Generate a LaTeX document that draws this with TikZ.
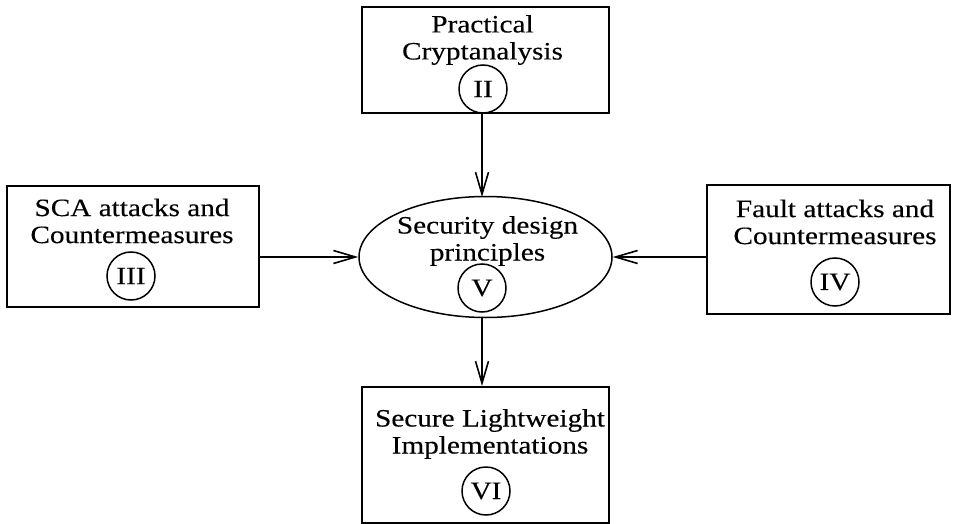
\documentclass[tikz,border=0pt]{standalone}
\usepackage{fontspec}
\setmainfont{Liberation Serif}[FakeStretch=1.17,FakeBold=0.2]
\usetikzlibrary{arrows.meta,shapes.geometric}
\begin{document}
\begin{tikzpicture}[x=1pt,y=-1pt,
  box/.style={draw,line width=2pt,inner sep=0pt},
  lbl/.style={align=center,font=\fontsize{25}{27}\selectfont,inner sep=0pt},
  num/.style={draw,circle,line width=1.5pt,minimum size=48pt,inner sep=0pt,font=\fontsize{25}{25}\selectfont},
  conn/.style={line width=1.6pt,-{Straight Barb[length=22pt,width=13pt,line width=1.6pt]}}]
\useasboundingbox (0,0) rectangle (958,524);
% boxes
\node[box,minimum width=247pt,minimum height=106pt] (pc) at (485.5,60) {};
\node[box,minimum width=252pt,minimum height=121pt] (sca) at (133,246.5) {};
\node[box,minimum width=243pt,minimum height=129pt] (fa) at (828.5,249.5) {};
\node[box,minimum width=247pt,minimum height=136pt] (sli) at (485.5,455) {};
\node[draw,ellipse,line width=1.5pt,minimum width=253pt,minimum height=121pt,inner sep=0pt] (sdp) at (485.5,257) {};
% labels
\node[lbl] (pct) at (482.5,40) {Practical\\Cryptanalysis};
\node[lbl] (scat) at (132,221) {SCA attacks and\\Countermeasures};
\node[lbl] (sdpt) at (487.5,241) {Security design\\principles};
\node[lbl] (fat) at (835,222) {Fault attacks and\\Countermeasures};
\node[lbl] (slit) at (490,434) {Secure Lightweight\\Implementations};
% numerals
\node[num] (n2) at (483,89) {II};
\node[num] (n3) at (131,276) {III};
\node[num] (n5) at (482,288) {V};
\node[num] (n4) at (835,282) {IV};
\node[num] (n6) at (486,491) {VI};
% connectors
\coordinate (top) at (482,197);
\coordinate (bot) at (482,318);
\draw[conn] (pc.south -| top) -- (top);
\draw[conn] (sca.east |- sdp.west) -- (sdp.west);
\draw[conn] (fa.west |- sdp.east) -- (sdp.east);
\draw[conn] (bot) -- (bot |- sli.north);
\end{tikzpicture}
\end{document}
